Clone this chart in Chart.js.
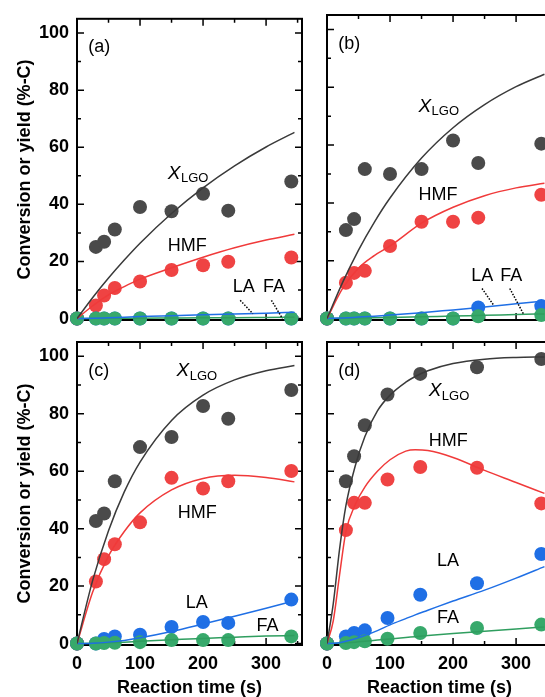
<!DOCTYPE html>
<html>
<head>
<meta charset="utf-8">
<script src="https://cdn.jsdelivr.net/npm/chart.js@4.4.0/dist/chart.umd.min.js"></script>
<style>
  html, body { margin: 0; padding: 0; background: #fff; overflow: hidden; }
  #wrap { position: relative; width: 545px; height: 697px; overflow: hidden; }
  #wrap canvas { position: absolute; left: 0; top: 0; }
</style>
</head>
<body>
<div id="wrap">
  <canvas id="pa" width="560" height="697"></canvas>
  <canvas id="pb" width="560" height="697"></canvas>
  <canvas id="pc" width="560" height="697"></canvas>
  <canvas id="pd" width="560" height="697"></canvas>
</div>
<script>
// sampling times (s)
const times = [0, 30, 43, 60, 100, 150, 200, 240, 340];
const timesD = [0, 30, 43, 60, 96, 148, 238, 340];
const fitTimes = [0, 25, 50, 75, 100, 150, 200, 250, 300, 345];
const fitTimesD = [0, 10, 20, 30, 45, 60, 80, 100, 125, 140, 160, 200, 250, 300, 345];

// axis ticks
const yMajor = [0, 20, 40, 60, 80, 100];
const yMinor = [10, 30, 50, 70, 90];
const xMajor = [0, 100, 200, 300];
const xMinor = [50, 150, 250, 350];

// (a)
const xlgoA = [0, 25.1, 26.9, 31.2, 39.1, 37.6, 43.7, 37.8, 48.0];
const hmfA = [0, 4.6, 8.1, 10.7, 13.0, 17.0, 18.7, 19.9, 21.4];
const laA = [0, 0, 0, 0, 0, 0, 0, 0, 0];
const faA = [0, 0, 0, 0, 0, 0, 0, 0, 0];
const xlgoFitA = [0, 7.4, 14.2, 20.5, 26.4, 36.8, 45.8, 53.5, 60.1, 65.2];
const hmfFitA = [0, 4.5, 8.3, 11.2, 13.8, 17.8, 21.5, 24.8, 27.5, 29.5];
const laFitA = [0, 0.1, 0.3, 0.5, 0.7, 1.0, 1.3, 1.6, 1.9, 2.2];
const faFitA = [0, 0, 0.1, 0.1, 0.1, 0.2, 0.3, 0.3, 0.4, 0.5];

// (b)
const xlgoB = [0, 30.6, 34.4, 51.7, 50.0, 51.7, 61.6, 53.8, 60.5];
const hmfB = [0, 12.4, 15.8, 16.5, 25.1, 33.5, 33.5, 34.9, 42.8];
const laB = [0, 0, 0, 0, 0, 0, 0, 3.8, 4.3];
const faB = [0, 0, 0, 0, 0, 0, 0, 0.8, 1.2];
const xlgoFitB = [0, 12.6, 23.7, 33.3, 41.7, 55.5, 66.0, 74.0, 80.2, 84.5];
const hmfFitB = [0, 10.5, 17.5, 21.8, 25.1, 33.0, 38.5, 42.5, 45.2, 46.8];
const laFitB = [0, 0.2, 0.5, 0.8, 1.2, 2.0, 3.0, 4.0, 5.1, 6.1];
const faFitB = [0, 0.1, 0.2, 0.3, 0.4, 0.6, 0.9, 1.1, 1.4, 1.6];

// (c)
const xlgoC = [0, 42.7, 45.3, 56.5, 68.4, 71.9, 82.7, 78.3, 88.3];
const hmfC = [0, 21.6, 29.4, 34.6, 42.2, 57.7, 54.0, 56.5, 60.1];
const laC = [0, 0, 1.6, 2.5, 3.1, 5.8, 7.5, 7.2, 15.3];
const faC = [0, 0, 0.2, 0.3, 0.5, 1.2, 1.2, 1.2, 2.5];
const xlgoFitC = [0, 22.1, 39.3, 52.8, 63.2, 77.7, 86.5, 91.8, 95.0, 96.8];
const hmfFitC = [0, 18.0, 30.5, 39.0, 45.5, 53.5, 57.5, 58.6, 57.8, 56.3];
const laFitC = [0, 0.1, 0.5, 1.1, 2.0, 4.2, 6.8, 9.5, 12.3, 14.9];
const faFitC = [0, 0.1, 0.3, 0.5, 0.8, 1.3, 1.8, 2.2, 2.6, 2.8];

// (d)
const xlgoD = [0, 56.5, 65.2, 76.0, 86.7, 93.9, 96.2, 99.1];
const hmfD = [0, 39.5, 49.0, 49.0, 57.1, 61.5, 61.2, 48.8];
const laD = [0, 2.5, 3.7, 4.6, 8.9, 17.0, 21.0, 31.2];
const faD = [0, 0.2, 0.5, 0.8, 1.7, 3.7, 5.4, 6.6];
const xlgoFitD = [0, 14, 33, 48, 62, 72, 81, 86.5, 91, 93, 95, 97.5, 99, 99.6, 99.8];
const hmfFitD = [0, 8, 24, 39, 48.5, 54.5, 60, 64, 67, 67.5, 67.2, 64.8, 60.3, 56.1, 52.3];
const laFitD = [0, 0.1, 0.3, 0.8, 1.7, 2.8, 4.5, 6.5, 8.7, 10, 11.6, 14.8, 18.6, 22.8, 26.8];
const faFitD = [0, 0.1, 0.2, 0.3, 0.5, 0.8, 1.2, 1.6, 2.1, 2.4, 2.8, 3.5, 4.3, 5.1, 5.8];

const FONT = "'Liberation Sans', Arial, sans-serif";
const colors = {
  xlgo: { dot: '#4a4a4a', line: '#3a3a3a' },
  hmf: { dot: '#ef4343', line: '#f03a3a' },
  la: { dot: '#1f6fe5', line: '#1f6fe5' },
  fa: { dot: '#37a96b', line: '#2f9e5f' }
};

function pts(t, v) {
  return t.map((x, i) => ({ x: x, y: v[i] }));
}

// frame with inward ticks on all four sides, drawn under the markers
const framePlugin = {
  id: 'frame',
  beforeDatasetsDraw(chart) {
    const { ctx, chartArea: a, scales: { x, y } } = chart;
    ctx.save();
    ctx.strokeStyle = '#000';
    ctx.lineWidth = 2;
    ctx.strokeRect(a.left, a.top, a.right - a.left, a.bottom - a.top);
    ctx.lineWidth = 1.5;
    ctx.beginPath();
    const tx = (v, len) => {
      const p = x.getPixelForValue(v);
      if (p < a.left + 1 || p > a.right - 1) return;
      ctx.moveTo(p, a.bottom); ctx.lineTo(p, a.bottom - len);
      ctx.moveTo(p, a.top); ctx.lineTo(p, a.top + len);
    };
    const ty = (v, len) => {
      const p = y.getPixelForValue(v);
      ctx.moveTo(a.left, p); ctx.lineTo(a.left + len, p);
      ctx.moveTo(a.right, p); ctx.lineTo(a.right - len, p);
    };
    xMajor.forEach(v => tx(v, 7));
    xMinor.forEach(v => tx(v, 4));
    yMajor.forEach(v => ty(v, 7));
    yMinor.forEach(v => ty(v, 4));
    ctx.stroke();
    ctx.restore();
  }
};

// panel tag, curve labels and dotted leaders
function notesPlugin(notes) {
  return {
    id: 'notes',
    afterDatasetsDraw(chart) {
      const { ctx, scales: { x, y } } = chart;
      ctx.save();
      ctx.fillStyle = '#000';
      ctx.textBaseline = 'middle';
      ctx.textAlign = 'left';
      ctx.font = '18px ' + FONT;
      ctx.fillText(notes.tag, x.getPixelForValue(18), y.getPixelForValue(95));
      notes.labels.forEach(l => {
        const px = x.getPixelForValue(l[1]);
        const py = y.getPixelForValue(l[2]);
        if (l[0] === 'XLGO') {
          ctx.font = 'italic 19px ' + FONT;
          ctx.fillText('X', px, py);
          const w = ctx.measureText('X').width;
          ctx.font = '13px ' + FONT;
          ctx.fillText('LGO', px + w + 0.5, py + 5);
        } else {
          ctx.font = '18px ' + FONT;
          ctx.fillText(l[0], px, py);
        }
      });
      ctx.strokeStyle = '#000';
      ctx.lineWidth = 1.5;
      ctx.setLineDash([1.5, 1.5]);
      notes.leaders.forEach(d => {
        ctx.beginPath();
        ctx.moveTo(x.getPixelForValue(d[0]), y.getPixelForValue(d[1]));
        ctx.lineTo(x.getPixelForValue(d[2]), y.getPixelForValue(d[3]));
        ctx.stroke();
      });
      ctx.restore();
    }
  };
}

function makePanel(id, p) {
  const dot = (t, v, c, order) => ({
    data: pts(t, v), showLine: false, pointRadius: 7, pointHoverRadius: 7,
    pointBackgroundColor: c, pointBorderWidth: 0, borderWidth: 0, order: order, clip: false
  });
  const fit = (t, v, c) => ({
    data: pts(t, v), borderColor: c, borderWidth: 1.5, pointRadius: 0,
    cubicInterpolationMode: 'monotone', fill: false, order: 0
  });
  new Chart(document.getElementById(id), {
    type: 'line',
    data: {
      datasets: [
        fit(p.ft, p.fits[0], colors.xlgo.line),
        fit(p.ft, p.fits[1], colors.hmf.line),
        fit(p.ft, p.fits[2], colors.la.line),
        fit(p.ft, p.fits[3], colors.fa.line),
        dot(p.t, p.vals[3], colors.fa.dot, 1),
        dot(p.t, p.vals[2], colors.la.dot, 2),
        dot(p.t, p.vals[1], colors.hmf.dot, 3),
        dot(p.t, p.vals[0], colors.xlgo.dot, 4)
      ]
    },
    options: {
      responsive: false,
      animation: false,
      events: [],
      layout: { padding: p.pad },
      plugins: { legend: { display: false }, tooltip: { enabled: false } },
      scales: {
        x: {
          type: 'linear', min: 0, max: 357,
          display: p.showX,
          grid: { display: false, drawTicks: false },
          border: { display: false },
          ticks: {
            stepSize: 100, includeBounds: false, padding: 8, maxRotation: 0, color: '#000',
            font: { family: FONT, size: 18, weight: 'bold' }
          },
          title: {
            display: true, text: 'Reaction time (s)', color: '#000',
            padding: { top: 0, bottom: -2 },
            font: { family: FONT, size: 18, weight: 'bold' }
          },
          afterFit: s => { s.height = p.showX ? 52 : 0; }
        },
        y: {
          type: 'linear', min: -0.5, max: 105,
          display: p.showY,
          grid: { display: false, drawTicks: false },
          border: { display: false },
          ticks: {
            stepSize: 20, includeBounds: false, padding: 8, color: '#000',
            font: { family: FONT, size: 18, weight: 'bold' }
          },
          title: {
            display: true, text: 'Conversion or yield (%-C)', color: '#000',
            padding: { top: 14, bottom: 0 },
            font: { family: FONT, size: 18, weight: 'bold' }
          },
          afterFit: s => { s.width = p.showY ? 77 : 0; }
        }
      }
    },
    plugins: [framePlugin, notesPlugin(p.notes)]
  });
}

makePanel('pa', {
  t: times, ft: fitTimes,
  vals: [xlgoA, hmfA, laA, faA], fits: [xlgoFitA, hmfFitA, laFitA, faFitA],
  pad: { left: 0, top: 15, right: 258, bottom: 377 }, showX: false, showY: true,
  notes: {
    tag: '(a)',
    labels: [['XLGO', 144, 50.7], ['HMF', 144, 25.4], ['LA', 247, 10.9], ['FA', 295, 10.9]],
    leaders: [[259, 6.4, 279, 1.7], [308.5, 6.4, 326, 0]]
  }
});

makePanel('pb', {
  t: times, ft: fitTimes,
  vals: [xlgoB, hmfB, laB, faB], fits: [xlgoFitB, hmfFitB, laFitB, faFitB],
  pad: { left: 327, top: 15, right: 8, bottom: 377 }, showX: false, showY: false,
  notes: {
    tag: '(b)',
    labels: [['XLGO', 145, 73.4], ['HMF', 145, 42.8], ['LA', 229, 14.7], ['FA', 275, 14.7]],
    leaders: [[246, 10.4, 264.5, 4.6], [290, 10.4, 312, 1.5]]
  }
});

makePanel('pc', {
  t: times, ft: fitTimes,
  vals: [xlgoC, hmfC, laC, faC], fits: [xlgoFitC, hmfFitC, laFitC, faFitC],
  pad: { left: 0, top: 342, right: 258, bottom: 0 }, showX: true, showY: true,
  notes: {
    tag: '(c)',
    labels: [['XLGO', 158, 94.9], ['HMF', 160, 45.4], ['LA', 172.5, 14.2], ['FA', 284.7, 6.1]],
    leaders: []
  }
});

makePanel('pd', {
  t: timesD, ft: fitTimesD,
  vals: [xlgoD, hmfD, laD, faD], fits: [xlgoFitD, hmfFitD, laFitD, faFitD],
  pad: { left: 327, top: 342, right: 8, bottom: 0 }, showX: true, showY: false,
  notes: {
    tag: '(d)',
    labels: [['XLGO', 161.3, 87.9], ['HMF', 161.3, 70.4], ['LA', 174.6, 28.8], ['FA', 174.6, 9.0]],
    leaders: []
  }
});
</script>
</body>
</html>
